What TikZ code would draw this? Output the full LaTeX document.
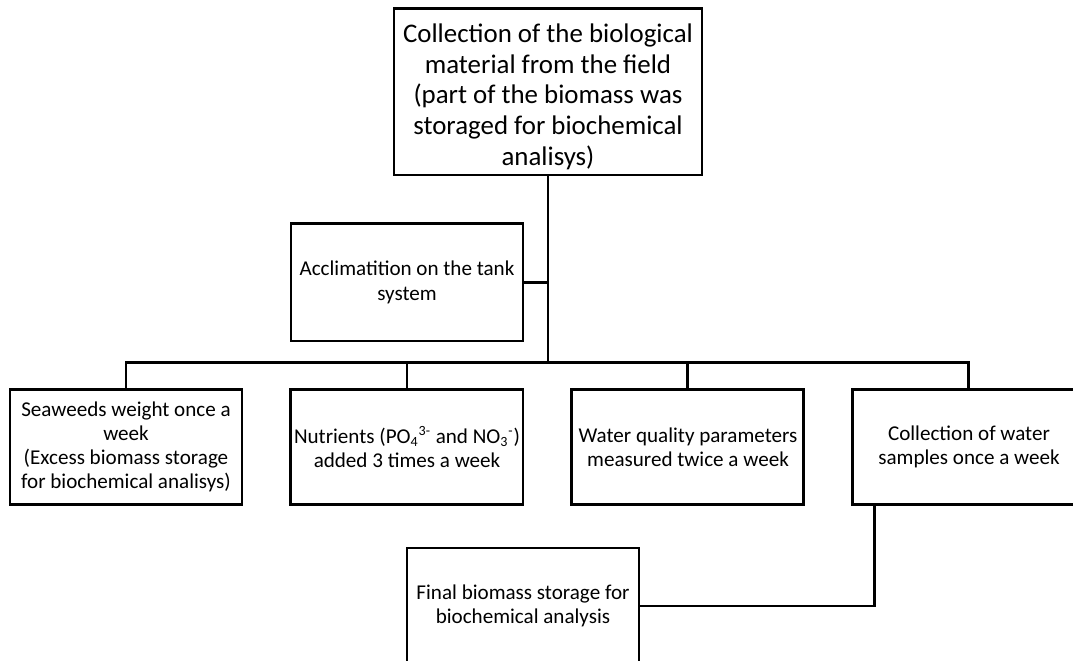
\documentclass[tikz,border=0pt]{standalone}
\usepackage{fontspec}
\setmainfont{Carlito}
\usepackage{tikz}
\usetikzlibrary{positioning}
\tikzset{
  box/.style={draw,line width=1.7pt,align=center,minimum width=46.4mm,minimum height=23mm,inner xsep=0pt,inner ysep=2pt,font=\fontsize{12}{13.8}\selectfont},
  topbox/.style={box,minimum width=61.6mm,minimum height=33.2mm,font=\fontsize{15.3}{17.4}\selectfont},
  link/.style={line width=1.7pt},
}

\begin{document}
\begin{tikzpicture}[x=0.2mm,y=-0.2mm]
\useasboundingbox (0,0) rectangle (1073,661);
\node[topbox] (coll) at (548,92) {\rule{0pt}{16pt}Collection of the biological\\material from the field\\(part of the biomass was\\storaged for biochemical\\analisys)};
\node[box, minimum height=23.4mm] (accl) at (407,282.5) {Acclimatition on the tank\\system};
\node[box] (seaw) at (126,447) {Seaweeds weight once a\\week\\(Excess biomass storage\\for biochemical analisys)};
\node[box, right=9.2mm of seaw] (nutr) {Nutrients (PO\textsubscript{4}\textsuperscript{3-} and NO\textsubscript{3}\textsuperscript{-})\\added 3 times a week};
\node[box, right=9.2mm of nutr] (watq) {Water quality parameters\\measured twice a week};
\node[box, right=9.2mm of watq] (colw) {Collection of water\\samples once a week};
\node[box, minimum height=23.2mm] (fin) at (523,606) {Final biomass storage for\\biochemical analysis};
\coordinate (hub) at (548,362.5);
% trunk and branches
\draw[link] (coll) -- (hub);
\draw[link] (accl.east) -- (accl.east -| hub);
\draw[link] (seaw.north) |- (hub) -| (colw.north);
\draw[link] (nutr.north) -- (nutr.north |- hub);
\draw[link] (watq.north) -- (watq.north |- hub);
\draw[link] ([xshift=4.6mm]colw.south west) |- (fin.east);
\end{tikzpicture}
\end{document}
